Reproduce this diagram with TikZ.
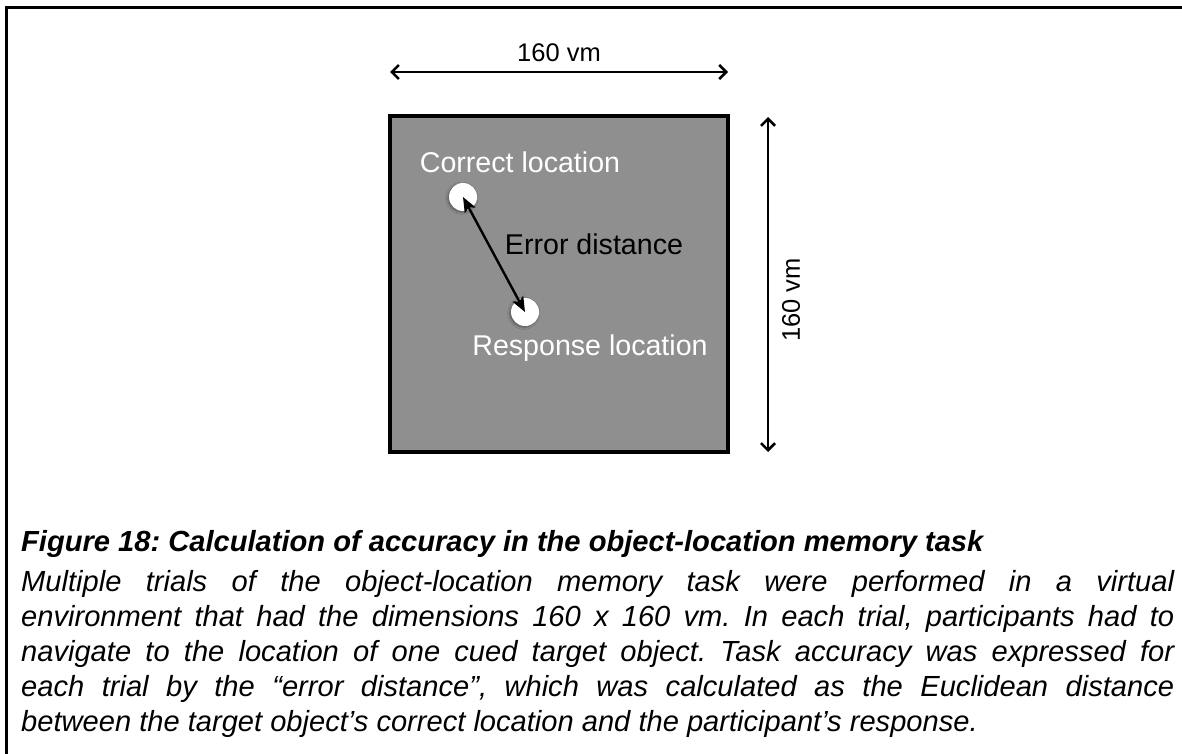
\documentclass[tikz,border=0pt]{standalone}
\usepackage{fontspec}
\setmainfont{Liberation Sans}
\usetikzlibrary{arrows.meta,shadows.blur}
\begin{document}
\frenchspacing
\begin{tikzpicture}[x=1pt,y=-1pt,
  frameline/.style={line width=2.6pt},
  dimarrow/.style={line width=2.6pt,{Straight Barb[length=7pt,width=14pt,line width=2.6pt]}-{Straight Barb[length=7pt,width=14pt,line width=2.6pt]}},
  errarrow/.style={line width=2.4pt,{Stealth[length=15pt,width=12pt,inset=3pt]}-{Stealth[length=15pt,width=12pt,inset=3pt]}},
  spot/.style={circle,fill=white,minimum size=28pt,inner sep=0pt,blur shadow={shadow xshift=-1.2pt,shadow yshift=-1.2pt,shadow blur steps=5,shadow opacity=40}},
  label/.style={font=\fontsize{28.6}{32}\selectfont,inner sep=0pt},
  dimlabel/.style={font=\fontsize{25.5}{30}\selectfont,inner sep=0pt},
  capline/.style={anchor=base west,inner sep=0pt,font=\fontsize{29.1}{34}\selectfont\itshape}
]
\useasboundingbox (0,0) rectangle (1182,754);
% page frame (top and left edges)
\draw[frameline] (6.5,754) -- (6.5,7.5) -- (1182,7.5);

% arena
\draw[line width=4pt,fill=black!44] (390,116) rectangle (728,452);

% width dimension
\coordinate (wl) at (390,72);
\coordinate (wr) at (728,72);
\draw[dimarrow] (wl) -- (wr);
\node[dimlabel,anchor=base] (wtext) at (559,62) {160 vm};

% height dimension
\coordinate (ht) at (768,117);
\coordinate (hb) at (768,452);
\draw[dimarrow] (ht) -- (hb);
\node[dimlabel,rotate=90] (htext) at (791,300) {160 vm};

% locations
\node[spot] (correct) at (463,197) {};
\node[spot] (response) at (525,312) {};
\draw[errarrow] (correct.center) -- (response.center);
\node[label,text=white] (ctext) at (520,162) {Correct location};
\node[label] (etext) at (594,244) {Error distance};
\node[label,text=white] (rtext) at (590,348) {Response location};

% caption
\node[anchor=base west,inner sep=0pt,font=\fontsize{29.1}{34}\selectfont\bfseries\itshape] (title) at (21,551) {Figure 18: Calculation of accuracy in the object-location memory task};
\node[capline] (l1) at (21,591) {\makebox[1153pt][s]{Multiple trials of the object-location memory task were performed in a virtual}};
\node[capline] (l2) at (21,626) {\makebox[1153pt][s]{environment that had the dimensions 160 x 160 vm. In each trial, participants had to}};
\node[capline] (l3) at (21,661) {\makebox[1153pt][s]{navigate to the location of one cued target object. Task accuracy was expressed for}};
\node[capline] (l4) at (21,696) {\makebox[1153pt][s]{each trial by the “error distance”, which was calculated as the Euclidean distance}};
\node[capline] (l5) at (21,731) {between the target object’s correct location and the participant’s response.};
\end{tikzpicture}
\end{document}
